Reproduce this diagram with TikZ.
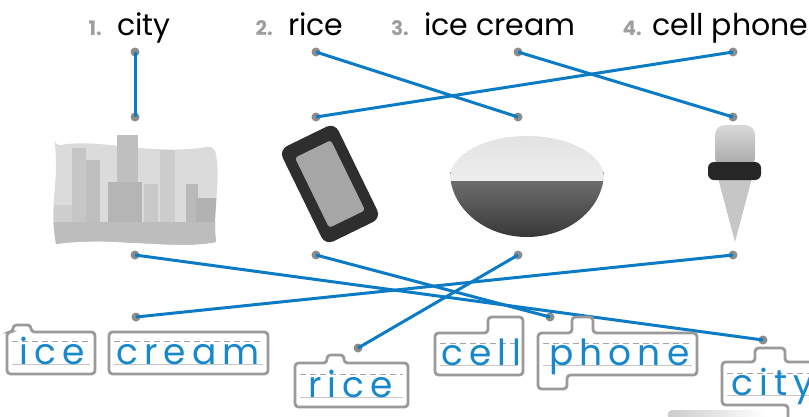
\documentclass[tikz,border=0pt]{standalone}
\usepackage{fontspec}
\setmainfont{Poppins}
\newfontfamily\tracefont[LetterSpace=17]{Poppins}
\usetikzlibrary{positioning}

\definecolor{linkblue}{HTML}{0A7BC4}
\definecolor{dotgray}{HTML}{8C8C8C}
\definecolor{numgray}{HTML}{9E9E9E}
\definecolor{boxgray}{HTML}{9A9A9A}
\definecolor{traceblue}{HTML}{1888CC}

\tikzset{
  word/.style={anchor=base west, inner sep=0pt, font=\fontsize{30}{30}\selectfont},
  num/.style={inner sep=0pt, text=numgray, font=\bfseries\fontsize{20}{20}\selectfont},
  link/.style={draw=linkblue, line width=3pt},
  dot/.style={circle, fill=dotgray, inner sep=0pt, minimum size=9pt},
  wordbox/.style={draw=boxgray, line width=2.8pt, rounded corners=3.5pt},
  guide/.style={draw=gray!45, line width=0.8pt},
  midguide/.style={draw=gray!70, line width=0.8pt, dash pattern=on 6pt off 4pt},
  trace/.style={anchor=base west, inner sep=0pt, text=traceblue, font=\tracefont\fontsize{36}{36}\selectfont},
}

\begin{document}
\begin{tikzpicture}[x=1pt,y=-1pt]
    \useasboundingbox (0,0) rectangle (809,416);
    \clip (0,0) rectangle (809,416);

    % Words to match
    \node[word] (city) at (117,35) {city};
    \node[word] (rice) at (288,35) {rice};
    \node[word] (icecream) at (424,35) {ice cream};
    \node[word] (phone) at (652,35) {cell phone};
    \node[num, base left=15pt of city] {1.};
    \node[num, base left=15pt of rice] {2.};
    \node[num, base left=15pt of icecream] {3.};
    \node[num, base left=10pt of phone] {4.};

    % City
    \fill[gray!28, rounded corners=6pt] (55,146) .. controls (100,138) and (150,156) .. (214,146)
        .. controls (222,180) and (212,215) .. (216,242)
        .. controls (170,250) and (110,236) .. (56,244)
        .. controls (50,210) and (58,180) .. (55,146) -- cycle;
    \begin{scope}
        \clip (55,120) -- (214,120) -- (214,146)
            .. controls (222,180) and (212,215) .. (216,242)
            .. controls (170,250) and (110,236) .. (56,244)
            .. controls (50,210) and (58,180) .. (55,146) -- cycle;
        \fill[gray!45] (72,148) rectangle (86,250);
        \fill[gray!50] (86,160) rectangle (100,250);
        \fill[gray!50] (117,135) rectangle (138,250);
        \fill[gray!58] (108,182) rectangle (142,250);
        \fill[gray!42] (144,184) rectangle (158,250);
        \fill[gray!40] (160,150) rectangle (175,250);
        \fill[gray!55] (186,184) rectangle (198,250);
        \fill[gray!60] (196,198) rectangle (220,250);
        \fill[gray!38] (50,205) rectangle (72,250);
        \fill[gray!52] (50,222) rectangle (220,250);
    \end{scope}

    % Phone
    \begin{scope}[shift={(330,184)}, rotate=26]
        \fill[black!82, rounded corners=9pt] (-31,-53) rectangle (31,53);
        \fill[gray!70, rounded corners=3pt] (-20,-39) rectangle (20,39);
    \end{scope}

    % Bowl of rice
    \begin{scope}
        \clip (445,172) rectangle (610,245);
        \shade[top color=gray!60, bottom color=black!78] (527,172) ellipse [x radius=77, y radius=65];
    \end{scope}
    \begin{scope}
        \clip (445,130) rectangle (610,180);
        \shade[top color=gray!22, bottom color=gray!6] (527,178) ellipse [x radius=77, y radius=42];
    \end{scope}

    % Ice cream cone
    \fill[gray!45] (718,178) -- (752,178) -- (735,242) -- cycle;
    \shade[top color=gray!30, bottom color=gray!70, rounded corners=10pt] (715,125) rectangle (755,168);
    \fill[black!85, rounded corners=6pt] (708,162) rectangle (761,180);

    % Dots
    \foreach \n/\x in {1/135,2/316,3/518,4/733} {
        \node[dot] (w\n) at (\x,52) {};
        \node[dot] (p\n) at (\x,117) {};
        \node[dot] (q\n) at (\x,255) {};
    }
    \node[dot] (tice) at (136,317) {};
    \node[dot] (trice) at (358,348) {};
    \node[dot] (tphone) at (550,317) {};
    \node[dot] (tcity) at (763,340) {};

    % Answers
    \draw[link] (w1.center) -- (p1.center);
    \draw[link] (w2.center) -- (p3.center);
    \draw[link] (w3.center) -- (p4.center);
    \draw[link] (w4.center) -- (p2.center);
    \draw[link] (q1.center) -- (tcity.center);
    \draw[link] (q2.center) -- (tphone.center);
    \draw[link] (q3.center) -- (trice.center);
    \draw[link] (q4.center) -- (tice.center);

    % Tracing boxes
    \draw[wordbox] (7,332) -- (7,374) -- (95,374) -- (95,332) -- (31,332)
        -- (31,325) -- (13,325) -- (13,332) -- cycle;
    \draw[midguide] (12,341) -- (90,341);
    \draw[guide] (12,364) -- (90,364);
    \node[trace] (tw1) at (19,364) {ice};

    \draw[wordbox] (109,332) rectangle (268,374);
    \draw[midguide] (114,341) -- (263,341);
    \draw[guide] (114,364) -- (263,364);
    \node[trace] (tw2) at (116,364) {cream};

    \draw[wordbox] (295,363) -- (295,407) -- (408,407) -- (408,363) -- (344,363)
        -- (344,355) -- (327,355) -- (327,363) -- cycle;
    \draw[midguide] (300,374) -- (403,374);
    \draw[guide] (300,397) -- (403,397);
    \node[trace] (tw3) at (308,397) {rice};

    \draw[wordbox] (435,333) -- (435,375) -- (523,375) -- (523,317) -- (488,317)
        -- (488,333) -- cycle;
    \draw[midguide] (440,343) -- (518,343);
    \draw[guide] (440,365) -- (518,365);
    \node[trace] (tw4) at (441,365) {cell};

    \draw[wordbox] (538,333) -- (538,389) -- (567,389) -- (567,375) -- (697,375)
        -- (697,333) -- (593,333) -- (593,317) -- (572,317) -- (572,333) -- cycle;
    \draw[midguide] (543,343) -- (692,343);
    \draw[guide] (543,365) -- (692,365);
    \node[trace] (tw5) at (549,365) {phone};

    \draw[wordbox] (722,362) -- (722,405) -- (788,405) -- (788,430) -- (830,430)
        -- (830,362) -- (785,362) -- (785,348) -- (755,348) -- (755,362) -- cycle;
    \draw[midguide] (727,373) -- (809,373);
    \draw[guide] (727,395) -- (809,395);
    \node[trace] (tw6) at (731,395) {city};

    % Edge of the next picture
    \shade[left color=gray!40, right color=white, rounded corners=4pt] (668,410) rectangle (765,420);
\end{tikzpicture}
\end{document}
